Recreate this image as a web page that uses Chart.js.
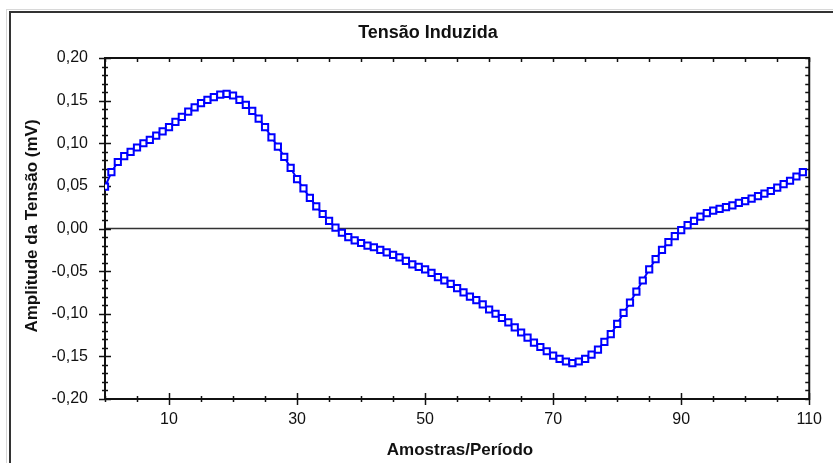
<!DOCTYPE html>
<html>
<head>
<meta charset="utf-8">
<title>Tensão Induzida</title>
<script src="https://cdn.jsdelivr.net/npm/chart.js"></script>
<style>
    html, body { margin: 0; padding: 0; background: #fff; overflow: hidden; }
    #grafico { display: block; }
</style>
</head>
<body>
<canvas id="grafico" width="833" height="463"></canvas>
<script>
// amostras por periodo (eixo x)
var amostras = [
    0, 1, 2, 3, 4, 5, 6, 7, 8, 9,
    10, 11, 12, 13, 14, 15, 16, 17, 18, 19,
    20, 21, 22, 23, 24, 25, 26, 27, 28, 29,
    30, 31, 32, 33, 34, 35, 36, 37, 38, 39,
    40, 41, 42, 43, 44, 45, 46, 47, 48, 49,
    50, 51, 52, 53, 54, 55, 56, 57, 58, 59,
    60, 61, 62, 63, 64, 65, 66, 67, 68, 69,
    70, 71, 72, 73, 74, 75, 76, 77, 78, 79,
    80, 81, 82, 83, 84, 85, 86, 87, 88, 89,
    90, 91, 92, 93, 94, 95, 96, 97, 98, 99,
    100, 101, 102, 103, 104, 105, 106, 107, 108, 109
];

// amplitude da tensao (mV)
var tensao = [
    0.049, 0.066, 0.078, 0.085, 0.090, 0.095, 0.100, 0.104, 0.109, 0.114,
    0.119, 0.125, 0.131, 0.137, 0.142, 0.147, 0.151, 0.154, 0.157, 0.158,
    0.156, 0.151, 0.145, 0.138, 0.129, 0.119, 0.107, 0.096, 0.084, 0.071,
    0.058, 0.047, 0.036, 0.026, 0.017, 0.009, 0.001, -0.005, -0.010, -0.014,
    -0.017, -0.020, -0.022, -0.025, -0.028, -0.031, -0.034, -0.038, -0.042, -0.045,
    -0.048, -0.052, -0.057, -0.061, -0.065, -0.070, -0.075, -0.080, -0.084, -0.089,
    -0.095, -0.100, -0.105, -0.110, -0.116, -0.122, -0.128, -0.134, -0.139, -0.144,
    -0.149, -0.153, -0.156, -0.158, -0.156, -0.153, -0.148, -0.142, -0.133, -0.124,
    -0.112, -0.099, -0.087, -0.074, -0.061, -0.048, -0.036, -0.025, -0.016, -0.009,
    -0.002, 0.004, 0.009, 0.014, 0.018, 0.021, 0.023, 0.025, 0.027, 0.030,
    0.032, 0.035, 0.038, 0.041, 0.044, 0.048, 0.052, 0.056, 0.061, 0.066
];

var xTicks = [10, 30, 50, 70, 90, 110];
var yTicks = [-0.20, -0.15, -0.10, -0.05, 0.00, 0.05, 0.10, 0.15, 0.20];

var titulo = 'Tensão Induzida';
var tituloX = 'Amostras/Período';
var tituloY = 'Amplitude da Tensão (mV)';

var fonte = '"Liberation Sans", Arial, sans-serif';

function virgula(v) {
    return v.toFixed(2).replace('.', ',');
}

function linha(c, x1, y1, x2, y2) {
    c.beginPath();
    c.moveTo(x1, y1);
    c.lineTo(x2, y2);
    c.stroke();
}

var moldura = {
    id: 'moldura',
    beforeDraw: function (chart) {
        var c = chart.ctx;
        c.save();
        c.fillStyle = '#fff';
        c.fillRect(0, 0, chart.width, chart.height);
        c.strokeStyle = '#d8d8d8';
        c.lineWidth = 1;
        c.strokeRect(6.5, 9.5, 900, 600);
        c.strokeStyle = '#333';
        c.lineWidth = 2;
        c.strokeRect(10, 12, 900, 600);
        c.restore();
    },
    beforeDatasetsDraw: function (chart) {
        var a = chart.chartArea, sx = chart.scales.x, sy = chart.scales.y, c = chart.ctx;
        var i, p, major;
        c.save();
        c.lineWidth = 1.5;
        // linha do zero
        c.strokeStyle = '#333';
        linha(c, a.left, sy.getPixelForValue(0), a.right, sy.getPixelForValue(0));
        c.strokeStyle = '#111';
        // eixo y: marcas a cada 0,01
        for (i = -20; i <= 20; i++) {
            p = Math.round(sy.getPixelForValue(i / 100)) + 0.5;
            major = (i % 5 === 0);
            linha(c, a.left - (major ? 6 : 3), p, a.left + (major ? 6 : 3), p);
            linha(c, a.right - 4, p, a.right, p);
        }
        // eixo x: marcas a cada 5
        for (i = 0; i <= 110; i += 5) {
            p = Math.round(sx.getPixelForValue(i)) + 0.5;
            major = xTicks.indexOf(i) >= 0;
            linha(c, p, a.bottom - (major ? 6 : 3), p, a.bottom + (major ? 6 : 3));
            linha(c, p, a.top, p, a.top + 4);
        }
        c.lineWidth = 2;
        c.strokeRect(a.left, a.top, a.right - a.left, a.bottom - a.top);
        c.restore();
    },
    afterDraw: function (chart) {
        var c = chart.ctx;
        c.save();
        c.fillStyle = '#111';
        c.textAlign = 'center';
        c.textBaseline = 'middle';
        c.font = 'bold 18px ' + fonte;
        c.fillText(titulo, 428, 33);
        c.font = 'bold 17px ' + fonte;
        c.fillText(tituloX, 460, 450);
        c.translate(32, 226);
        c.rotate(-Math.PI / 2);
        c.fillText(tituloY, 0, 0);
        c.restore();
    }
};

var pontos = amostras.map(function (x, i) {
    return {x: x, y: tensao[i]};
});

var grafico = new Chart(document.getElementById('grafico'), {
    type: 'scatter',
    data: {
        datasets: [{
            label: tituloY,
            data: pontos,
            showLine: true,
            borderColor: '#0000ff',
            borderWidth: 2,
            pointStyle: 'rect',
            pointRadius: 4.4,
            pointBorderWidth: 2,
            pointBackgroundColor: '#fff',
            pointBorderColor: '#0000ff'
        }]
    },
    options: {
        responsive: false,
        animation: false,
        layout: {padding: {top: 58, right: 17, bottom: 0, left: 0}},
        plugins: {
            legend: {display: false},
            tooltip: {enabled: false},
            title: {display: false}
        },
        scales: {
            x: {
                type: 'linear',
                min: 0,
                max: 110,
                afterBuildTicks: function (s) {
                    s.ticks = xTicks.map(function (v) { return {value: v}; });
                },
                afterFit: function (s) { s.height = 64; },
                grid: {display: false, drawTicks: false},
                border: {display: false},
                ticks: {
                    color: '#111',
                    font: {family: fonte, size: 16},
                    padding: 11,
                    maxRotation: 0,
                    autoSkip: false
                }
            },
            y: {
                type: 'linear',
                min: -0.2,
                max: 0.2,
                afterBuildTicks: function (s) {
                    s.ticks = yTicks.map(function (v) { return {value: v}; });
                },
                afterFit: function (s) { s.width = 105; },
                grid: {display: false, drawTicks: false},
                border: {display: false},
                ticks: {
                    color: '#111',
                    font: {family: fonte, size: 16},
                    padding: 17,
                    autoSkip: false,
                    callback: function (v) { return virgula(v); }
                }
            }
        }
    },
    plugins: [moldura]
});
</script>
</body>
</html>
